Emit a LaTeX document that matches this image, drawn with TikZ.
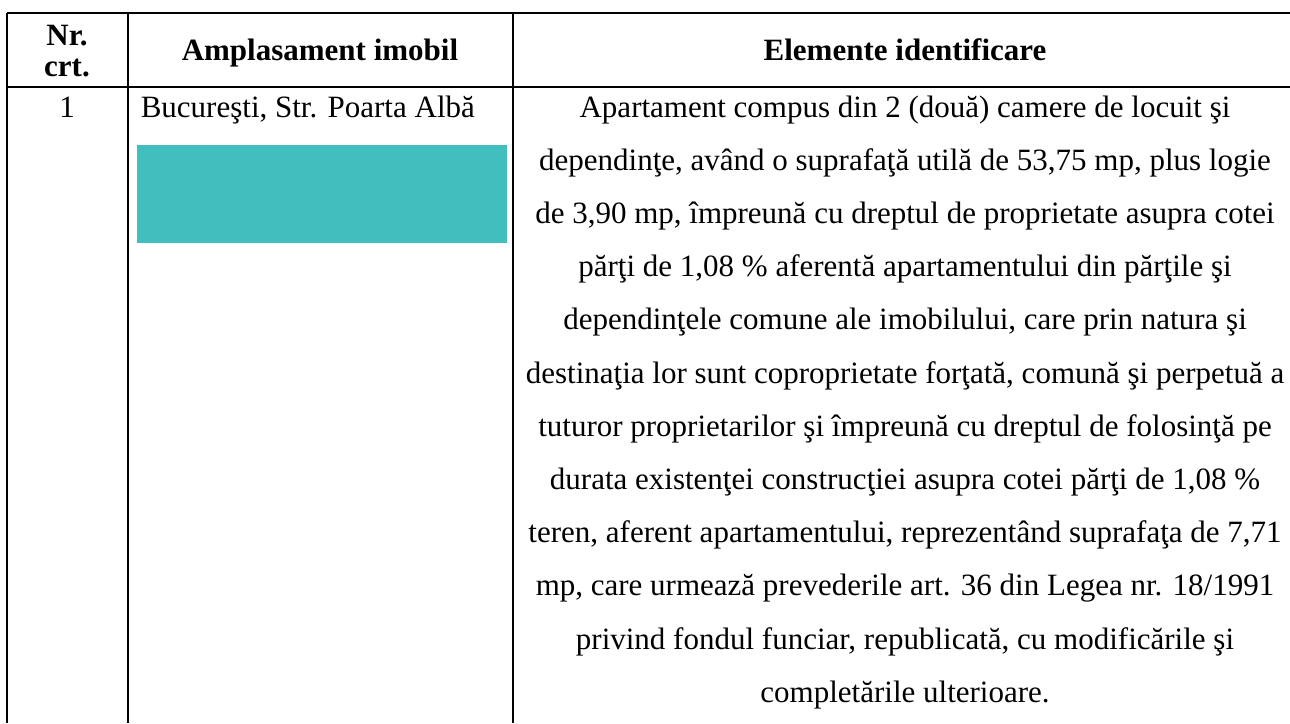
\documentclass[tikz,border=0pt]{standalone}
\usepackage{fontspec}
\setmainfont{Liberation Serif}
\definecolor{maskcol}{RGB}{64,191,190}

\begin{document}
\begin{tikzpicture}
[x=0.5pt,y=-0.5pt,line width=0.8pt,
 cell/.style={inner sep=0pt,font=\fontsize{15.5}{18}\selectfont},
 head/.style={inner sep=0pt,font=\fontsize{15.5}{18}\selectfont\bfseries},
 maskbox/.style={fill=maskcol,inner sep=0pt,minimum width=185pt,minimum height=49pt}]
\useasboundingbox (0,0) rectangle (1290,723);
\coordinate (tl) at (7,13);
\coordinate (tr) at (1290,13);
\coordinate (hl) at (7,87);
\coordinate (hr) at (1290,87);
\coordinate (bl) at (7,723);
\coordinate (c1t) at (128,13);
\coordinate (c1b) at (128,723);
\coordinate (c2t) at (513,13);
\coordinate (c2b) at (513,723);
\draw (tl) -- (tr);
\draw (hl) -- (hr);
\draw (tl) -- (bl);
\draw (c1t) -- (c1b);
\draw (c2t) -- (c2b);
\node[head,anchor=base] (nr) at (67,45) {Nr.};
\node[head,anchor=base] (crt) at (67,76) {crt.};
\node[head,anchor=base] (amplas) at (320,60) {Amplasament imobil};
\node[head,anchor=base] (elem) at (905,60) {Elemente identificare};
\node[cell,anchor=base] (nr1) at (67,117) {1};
\node[cell,anchor=base west] (adresa) at (140,117) {Bucureşti, Str. Poarta Albă};
\node[maskbox] (ascuns) at (322,194) {};
\foreach \t [count=\i from 0] in
  {{Apartament compus din 2 (două) camere de locuit şi},
   {dependinţe, având o suprafaţă utilă de 53,75 mp, plus logie},
   {de 3,90 mp, împreună cu dreptul de proprietate asupra cotei},
   {părţi de 1,08 \% aferentă apartamentului din părţile şi},
   {dependinţele comune ale imobilului, care prin natura şi},
   {destinaţia lor sunt coproprietate forţată, comună şi perpetuă a},
   {tuturor proprietarilor şi împreună cu dreptul de folosinţă pe},
   {durata existenţei construcţiei asupra cotei părţi de 1,08 \%},
   {teren, aferent apartamentului, reprezentând suprafaţa de 7,71},
   {mp, care urmează prevederile art. 36 din Legea nr. 18/1991},
   {privind fondul funciar, republicată, cu modificările şi},
   {completările ulterioare.}}
  \node[cell,anchor=base] (elem\i) at (905,{117+53.2*\i}) {\t};
\end{tikzpicture}
\end{document}
